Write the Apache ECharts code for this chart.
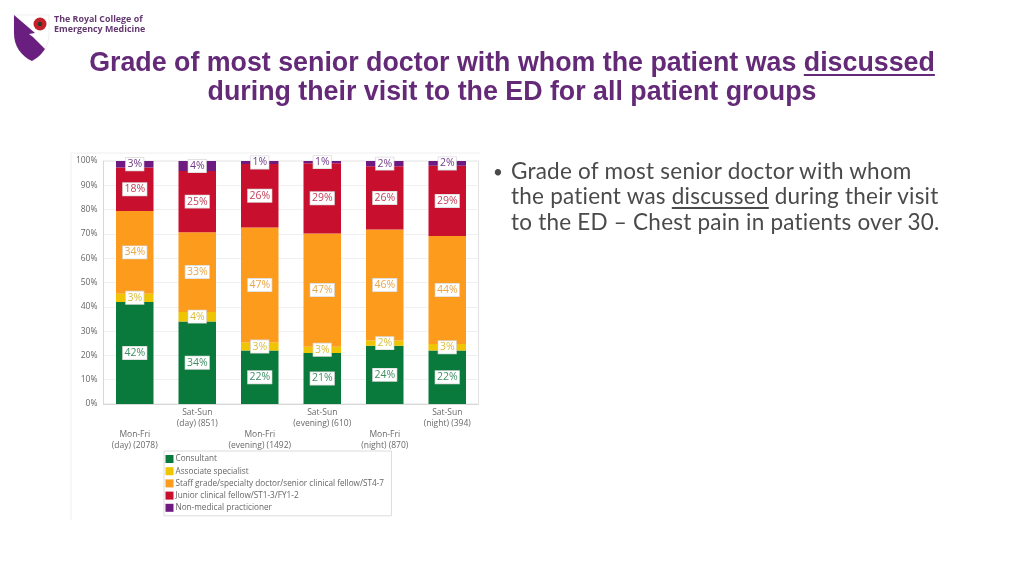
<!DOCTYPE html>
<html>
<head>
<meta charset="utf-8">
<script src="https://cdn.jsdelivr.net/npm/echarts@6/dist/echarts.min.js"></script>
<style>
html,body{margin:0;padding:0;background:#fff;width:1024px;height:576px;overflow:hidden}
#chart{position:absolute;left:0;top:0;width:1024px;height:576px;filter:blur(0.45px)}
.t{position:absolute;white-space:nowrap}
#title{left:0;width:1024px;top:48px;text-align:center;font:bold 26.8px/29px "Liberation Sans",sans-serif;color:#642a78}
#body{left:511px;top:158px;font:22.5px/25.3px Lato,sans-serif;letter-spacing:.22px;font-variant-ligatures:none;color:#4a4a4a}
#bullet{left:493px;top:159px;font:17px/25.3px Lato,sans-serif;color:#4a4a4a}
#org{left:54px;top:14px;font:bold 8.9px/10px "Open Sans",sans-serif;color:#64386f;filter:blur(0.3px)}
u{text-underline-offset:3px;text-decoration-thickness:1.5px}
svg{position:absolute;left:0;top:0}
</style>
</head>
<body>
<div id="chart"></div>
<svg width="60" height="70" viewBox="0 0 60 70">
  <path d="M14 15 L49 15 L49 36 C48 48 41 56 32 61 C21 56 14 46 14 33 Z" fill="#fff" stroke="#ddd" stroke-width="0.5"/>
  <path d="M14 15 L35 33 L29 34 L33 37 L45 49 C41 55 37 58 32 61 C21 56 14 46 14 33 Z" fill="#6a1f80"/>
  <circle cx="40" cy="24" r="6.5" fill="#c3202b"/>
  <circle cx="40" cy="24" r="2.2" fill="#2c3a22"/>
</svg>
<div id="org" class="t">The Royal College of<br>Emergency Medicine</div>
<div id="title" class="t">Grade of most senior doctor with whom the patient was <u>discussed</u><br>during their visit to the ED for all patient groups</div>
<div id="bullet" class="t">•</div>
<div id="body" class="t">Grade of most senior doctor with whom<br>the patient was <u>discussed</u> during their visit<br>to the ED – Chest pain in patients over 30.</div>
<script>
const categories = ["Mon-Fri\n(day) (2078)","Sat-Sun\n(day) (851)","Mon-Fri\n(evening) (1492)","Sat-Sun\n(evening) (610)","Mon-Fri\n(night) (870)","Sat-Sun\n(night) (394)"];
const consultant = [42,34,22,21,24,22];
const associate  = [3.4,3.9,3.3,2.6,2.1,2.7];
const staffGrade = [34,32.8,47.3,46.6,45.7,44.4];
const junior     = [17.9,25.2,26.2,28.9,26,28.9];
const nonMedical = [2.7,4.1,1.2,0.9,2.2,2];
const seriesNames = ["Consultant","Associate specialist","Staff grade/specialty doctor/senior clinical fellow/ST4-7","Junior clinical fellow/ST1-3/FY1-2","Non-medical practicioner"];
const seriesData = [consultant,associate,staffGrade,junior,nonMedical];
const colours = ["#0a7a3c","#efc400","#fd9b1c","#c90f2e","#6f1a80"];
const labelColours = ["#3f8f63","#d9bd3a","#e8a64a","#c4405a","#6f3a85"];
const font = '"Open Sans",sans-serif';

const chart = echarts.init(document.getElementById('chart'),null,{renderer:'canvas'});
chart.setOption({
  animation:false,
  backgroundColor:'transparent',
  grid:{left:103.5,right:545.5,top:161,bottom:172,show:true,borderColor:'#e3e3e3',borderWidth:1,containLabel:false},
  xAxis:{type:'category',data:categories,
    axisTick:{show:false},axisLine:{lineStyle:{color:'#d8d8d8'}},
    axisLabel:{interval:0,color:'#6a6a6a',fontFamily:font,fontSize:8.5,lineHeight:11,margin:3,
      verticalAlign:'top',
      formatter:(v,i)=> i%2===0 ? '\n\n'+v : v}},
  yAxis:{type:'value',min:0,max:100,interval:10,
    axisLine:{show:true,lineStyle:{color:'#d8d8d8'}},axisTick:{show:false},
    splitLine:{lineStyle:{color:'#f0f0f0'}},
    axisLabel:{formatter:'{value}%',color:'#666',fontFamily:font,fontSize:8.5,margin:6}},
  legend:{orient:'vertical',left:164,top:451,padding:[4,7.5,4,1.5],itemGap:4.2,itemWidth:8,itemHeight:8,
    icon:'rect',borderColor:'#dcdcdc',borderWidth:1,backgroundColor:'#fff',
    textStyle:{color:'#666',fontFamily:font,fontSize:8.2,padding:[0,0,0,-3]},
    data:seriesNames},
  graphic:[
    {type:'line',silent:true,shape:{x1:71,y1:153,x2:480,y2:153},style:{stroke:'#efefef',lineWidth:1}},
    {type:'line',silent:true,shape:{x1:71,y1:153,x2:71,y2:520},style:{stroke:'#efefef',lineWidth:1}}
  ],
  series:seriesNames.map((name,i)=>({
    name,type:'bar',stack:'total',barWidth:'60%',data:seriesData[i],
    itemStyle:{color:colours[i]},
    label:{show:true,position:'inside',formatter:p=>Math.round(p.value)+'%',
      color:labelColours[i],fontFamily:font,fontSize:10.5,backgroundColor:'#fff',
      borderColor:'#d8d8d8',borderWidth:0.7,padding:[1,1.5,0.5,1.5]}
  }))
});
</script>
</body>
</html>
